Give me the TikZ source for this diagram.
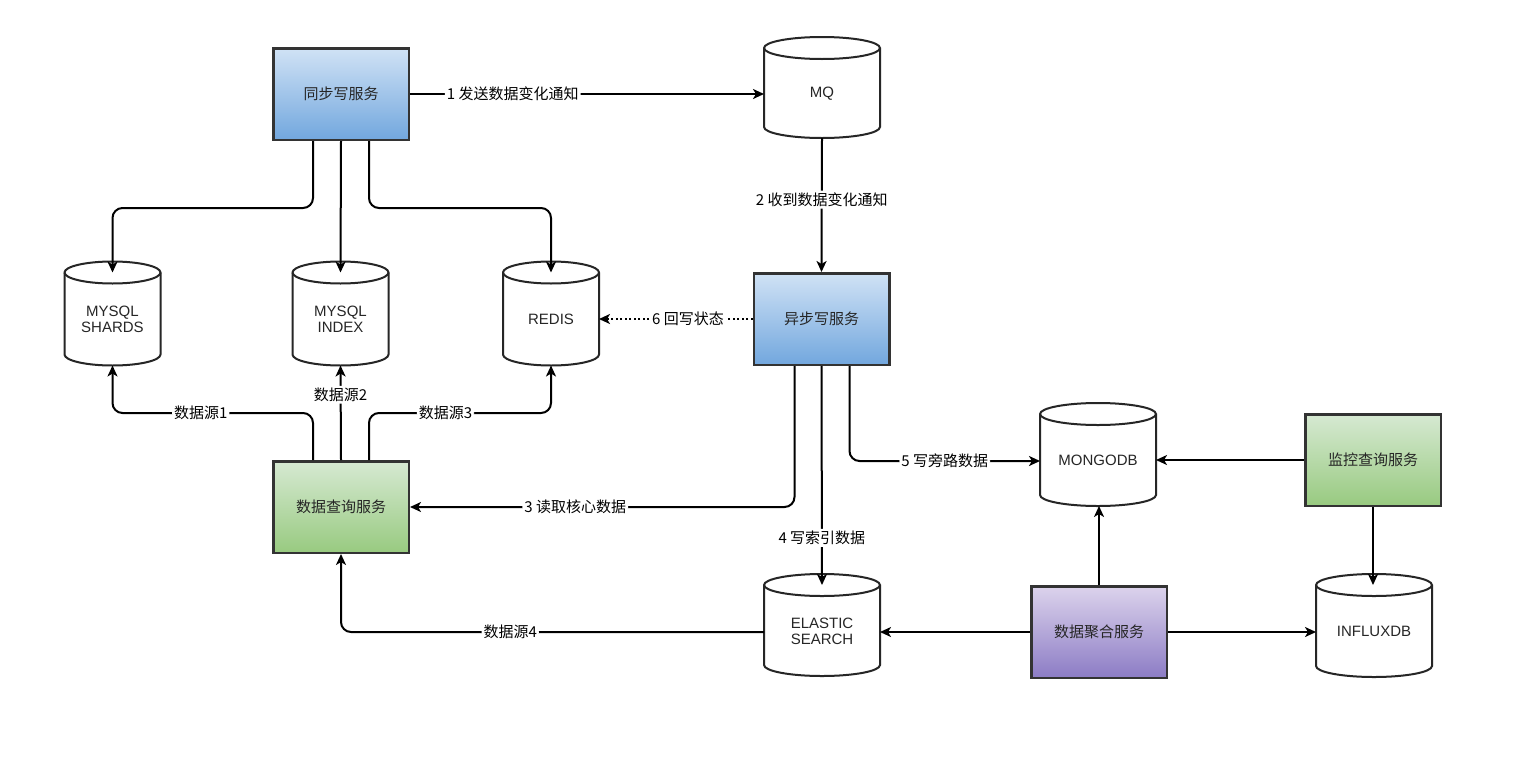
\documentclass[tikz,border=0pt]{standalone}
\usepackage{fontspec}
\setmainfont{Liberation Sans}
\newfontfamily\cjk{Noto Sans CJK SC}
\usetikzlibrary{arrows.meta,calc}
\definecolor{blueT}{HTML}{D0E2F5}
\definecolor{blueB}{HTML}{72A7DE}
\definecolor{greenT}{HTML}{D6E9D2}
\definecolor{greenB}{HTML}{98CA80}
\definecolor{purpT}{HTML}{DCD3EC}
\definecolor{purpB}{HTML}{8C7CC5}
\definecolor{edgec}{HTML}{333333}
\tikzset{
  svc/.style={draw=edgec, line width=2.5pt, minimum width=135.5pt, minimum height=91.5pt,
    font=\cjk\fontsize{15}{17}\selectfont, text=black!85, inner sep=0pt},
  svcblue/.style={top color=blueT, bottom color=blueB},
  svcgreen/.style={top color=greenT, bottom color=greenB},
  svcpurple/.style={top color=purpT, bottom color=purpB},
  cylbody/.style={draw=black!85, line width=2pt, fill=white},
  cylline/.style={draw=black!85, line width=2pt},
  cylshape/.style={inner sep=0pt, outer sep=0pt},
  cyltext/.style={align=center, font=\fontsize{15}{16}\selectfont, text=black!85, inner sep=0pt},
  conn/.style={draw=black, line width=2pt, rounded corners=10pt,
    -{Stealth[length=11pt,width=10pt,inset=3pt]}},
  dotline/.style={dash pattern=on 2pt off 2.5pt, rounded corners=0pt},
  lab/.style={fill=white, inner sep=2pt, font=\cjk\fontsize{15}{17}\selectfont, text=black}
}
\newcommand{\dbcyl}[6]{%
  \path[cylbody] ({#2-#4/2},{-#3+#5/2-11}) -- ({#2-#4/2},{-#3-#5/2+11})
     arc[start angle=180,end angle=360,x radius={#4/2},y radius=11]
     -- ({#2+#4/2},{-#3+#5/2-11})
     arc[start angle=0,end angle=180,x radius={#4/2},y radius=11] -- cycle;
  \draw[cylline] ({#2+#4/2},{-#3+#5/2-11}) arc[start angle=0,end angle=-180,x radius={#4/2},y radius=11];
  \node[cylshape, minimum width=#4pt, minimum height=#5pt] (#1) at (#2,-#3) {};
  \node[cyltext] (#1-t) at (#2,{-#3-6}) {#6};
}
\begin{document}
\begin{tikzpicture}[x=1pt,y=1pt]
\fill[white] (0,0) rectangle (1539,-763);
\useasboundingbox (0,0) rectangle (1539,-763);

% service boxes
\node[svc, svcblue] (sync) at (341,-94) {同步写服务};
\node[svc, svcblue] (async) at (821.5,-319) {异步写服务};
\node[svc, svcgreen] (query) at (341,-507) {数据查询服务};
\node[svc, svcgreen] (monitor) at (1373,-460) {监控查询服务};
\node[svc, svcpurple] (agg) at (1099,-632) {数据聚合服务};

% databases
\dbcyl{mq}{822}{87.5}{116}{101}{MQ}
\dbcyl{shards}{112.5}{313.5}{96}{104}{MYSQL\\SHARDS}
\dbcyl{index}{340.5}{313.5}{96}{104}{MYSQL\\INDEX}
\dbcyl{redis}{551}{313.5}{96}{104}{REDIS}
\dbcyl{mongo}{1098}{454.5}{116}{103}{MONGODB}
\dbcyl{es}{822}{625}{116}{102}{ELASTIC\\SEARCH}
\dbcyl{influx}{1374}{625.5}{116}{103}{INFLUXDB}

% connectors
\draw[conn] (sync.east) -- node[lab, pos=0.29] (l1) {1 发送数据变化通知} (sync.east -| mq.west);
\draw[conn] (mq.south) -- node[lab, pos=0.46] (l2) {2 收到数据变化通知} (async.north);

\draw[conn] ([xshift=-28pt]sync.south) -- ++(0,-67) -| ([yshift=-11pt]shards.north);
\draw[conn] (sync.south) -- ([yshift=-11pt]index.north);
\draw[conn] ([xshift=28pt]sync.south) -- ++(0,-67) -| ([yshift=-11pt]redis.north);

\draw[conn, dotline] (async.west) -- node[lab, pos=0.42] (l6) {6 回写状态} (async.west -| redis.east);

\draw[conn] ([xshift=-28pt]query.north) -- ++(0,47) -| node[lab, pos=0.28] (ds1) {数据源1} (shards.south);
\draw[conn] (query.north) -- node[lab, pos=0.69] (ds2) {数据源2} (index.south);
\draw[conn] ([xshift=28pt]query.north) -- ++(0,47) -| node[lab, pos=0.21] (ds3) {数据源3} (redis.south);

\draw[conn] ([xshift=-27pt]async.south) |- node[lab, pos=0.785] (l3) {3 读取核心数据} (query.east);
\draw[conn] (async.south) -- node[lab, pos=0.785] (l4) {4 写索引数据} ([yshift=-11pt]es.north);
\draw[conn] ([xshift=28pt]async.south) |- node[lab, pos=0.75] (l5) {5 写旁路数据} ([yshift=-6.5pt]mongo.west);

\draw[conn] (monitor.west) -- (monitor.west -| mongo.east);
\draw[conn] (monitor.south) -- ([yshift=-11pt]monitor.south |- influx.north);
\draw[conn] (agg.north) -- (agg.north |- mongo.south);
\draw[conn] (agg.west) -- (agg.west -| es.east);
\draw[conn] (agg.east) -- (agg.east -| influx.west);
\draw[conn] (agg.west -| es.west) -| node[lab, pos=0.3] (ds4) {数据源4} (query.south);
\end{tikzpicture}
\end{document}
